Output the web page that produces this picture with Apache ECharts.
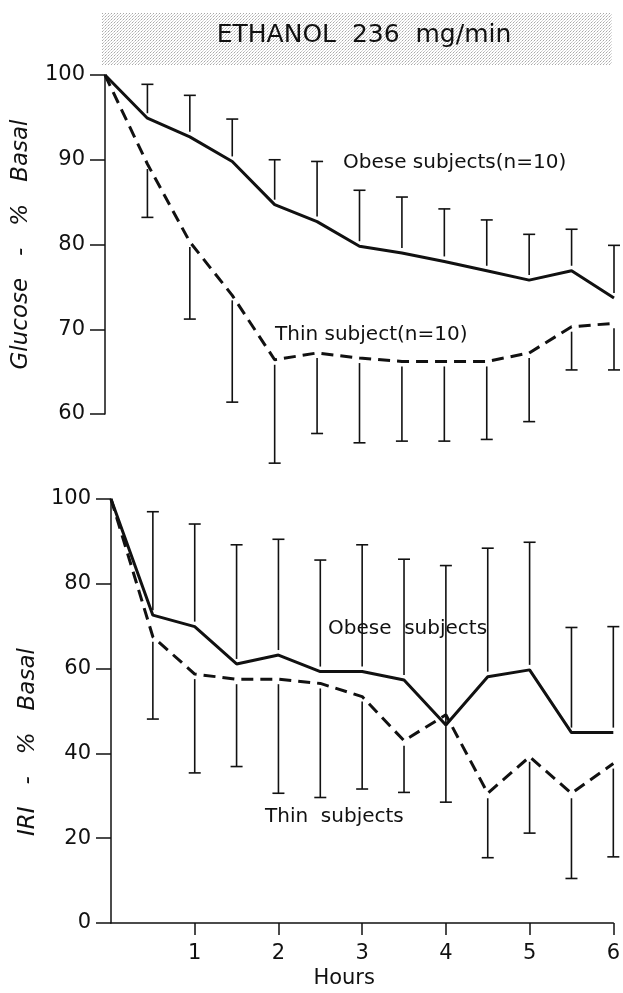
<!DOCTYPE html>
<html>
<head>
<meta charset="utf-8">
<script src="https://cdn.jsdelivr.net/npm/echarts@6/dist/echarts.min.js"></script>
<style>
  html, body { margin: 0; padding: 0; background: #fff; }
  #chart { width: 623px; height: 993px; }
</style>
</head>
<body>
<div id="chart"></div>
<script>
// time points (hours)
const hours = [0, 0.5, 1, 1.5, 2, 2.5, 3, 3.5, 4, 4.5, 5, 5.5, 6];

// glucose - % basal
const glucoseObese = [100, 94.9, 92.7, 89.8, 84.7, 82.7, 79.8, 79.0, 78.0, 76.9, 75.8, 76.9, 73.7];
const glucoseObeseUpper = [null, 98.9, 97.6, 94.8, 90.0, 89.8, 86.4, 85.6, 84.2, 82.9, 81.2, 81.8, 79.9];
const glucoseThin = [100, 89.5, 80.3, 74.0, 66.4, 67.2, 66.6, 66.2, 66.2, 66.2, 67.2, 70.3, 70.7];
const glucoseThinLower = [null, 83.2, 71.2, 61.4, 54.2, 57.7, 56.6, 56.8, 56.8, 57.0, 59.1, 65.2, 65.2];

// IRI - % basal
const iriObese = [100, 72.6, 69.9, 61.1, 63.2, 59.3, 59.3, 57.3, 46.7, 58.1, 59.7, 44.9, 44.9];
const iriObeseUpper = [null, 97.0, 94.1, 89.2, 90.5, 85.6, 89.2, 85.8, 84.3, 88.4, 89.8, 69.7, 69.9];
const iriThin = [100, 67.5, 58.7, 57.5, 57.5, 56.5, 53.4, 43.0, 49.1, 30.6, 39.2, 30.6, 37.6];
const iriThinLower = [null, 48.1, 35.4, 36.9, 30.6, 29.6, 31.6, 30.8, 28.5, 15.4, 21.2, 10.5, 15.6];

// tick labels
const glucoseTicks = [60, 70, 80, 90, 100];
const iriTicks = [0, 20, 40, 60, 80, 100];
const hourTicks = [1, 2, 3, 4, 5, 6];

const ink = '#111';
const font = '"DejaVu Sans", sans-serif';

function pairs(mean) {
  return hours.map(function (h, i) { return [h, mean[i]]; });
}
function bars(mean, end) {
  return hours.map(function (h, i) { return [h, mean[i], end[i]]; })
    .filter(function (d) { return d[2] != null; });
}

// error bar: from near the mean line out to the cap
function errorBar(params, api) {
  const p0 = api.coord([api.value(0), api.value(1)]);
  const p1 = api.coord([api.value(0), api.value(2)]);
  const dir = p1[1] > p0[1] ? 1 : -1;
  const gap = 5, half = 6;
  const st = { stroke: ink, lineWidth: 1.6 };
  return {
    type: 'group',
    children: [
      { type: 'line', shape: { x1: p0[0], y1: p0[1] + dir * gap, x2: p1[0], y2: p1[1] }, style: st },
      { type: 'line', shape: { x1: p1[0] - half, y1: p1[1], x2: p1[0] + half, y2: p1[1] }, style: st }
    ]
  };
}

// stipple for the title box
function stipple() {
  const c = document.createElement('canvas');
  c.width = 3; c.height = 3;
  const ctx = c.getContext('2d');
  ctx.fillStyle = '#fff'; ctx.fillRect(0, 0, 3, 3);
  ctx.fillStyle = '#a8a8a8'; ctx.fillRect(0, 0, 1, 1);
  ctx.fillStyle = '#c8c8c8'; ctx.fillRect(1, 2, 1, 1);
  ctx.fillStyle = '#d8d8d8'; ctx.fillRect(2, 1, 1, 1);
  return c;
}

function yAxis(gridIndex, min, max, interval, name, gap, pad) {
  return {
    type: 'value', gridIndex: gridIndex, min: min, max: max, interval: interval,
    name: name, nameLocation: 'middle', nameGap: gap,
    nameTextStyle: { fontFamily: font, fontStyle: 'italic', fontSize: 23, color: ink, padding: pad },
    axisLine: { show: true, lineStyle: { color: ink, width: 1.5 } },
    axisTick: { show: true, inside: false, length: 15, lineStyle: { color: ink, width: 1.5 } },
    axisLabel: { fontFamily: font, fontSize: 21, color: ink, margin: 20 },
    splitLine: { show: false }
  };
}

const chart = echarts.init(document.getElementById('chart'));

const option = {
  backgroundColor: '#fff',
  animation: false,
  grid: [
    { left: 105, right: 9, top: 75, height: 339 },
    { left: 111, right: 9, top: 499, height: 424 }
  ],
  xAxis: [
    { type: 'value', gridIndex: 0, min: 0, max: 6, show: false },
    {
      type: 'value', gridIndex: 1, min: 0, max: 6, interval: 1,
      name: 'Hours', nameLocation: 'middle', nameGap: 45,
      nameTextStyle: { fontFamily: font, fontSize: 21, color: ink, padding: [0, 36, 0, 0] },
      axisLine: { show: true, onZero: false, lineStyle: { color: ink, width: 1.5 } },
      axisTick: { show: true, inside: false, length: 12, customValues: hourTicks, lineStyle: { color: ink, width: 1.5 } },
      axisLabel: { fontFamily: font, fontSize: 21, color: ink, margin: 20, customValues: hourTicks },
      splitLine: { show: false }
    }
  ],
  yAxis: [
    yAxis(0, glucoseTicks[0], glucoseTicks[glucoseTicks.length - 1], 10, 'Glucose   -   %   Basal', 72, [0, 0, 0, 0]),
    yAxis(1, iriTicks[0], iriTicks[iriTicks.length - 1], 20, 'IRI   -   %   Basal', 69, [0, 62, 0, 0])
  ],
  series: [
    {
      type: 'line', xAxisIndex: 0, yAxisIndex: 0, data: pairs(glucoseObese),
      symbol: 'none', lineStyle: { color: ink, width: 3 }
    },
    {
      type: 'line', xAxisIndex: 0, yAxisIndex: 0, data: pairs(glucoseThin),
      symbol: 'none', lineStyle: { color: ink, width: 3, type: [12, 7] }
    },
    {
      type: 'custom', xAxisIndex: 0, yAxisIndex: 0, clip: false,
      data: bars(glucoseObese, glucoseObeseUpper), renderItem: errorBar
    },
    {
      type: 'custom', xAxisIndex: 0, yAxisIndex: 0, clip: false,
      data: bars(glucoseThin, glucoseThinLower), renderItem: errorBar
    },
    {
      type: 'line', xAxisIndex: 1, yAxisIndex: 1, data: pairs(iriObese),
      symbol: 'none', lineStyle: { color: ink, width: 3 }
    },
    {
      type: 'line', xAxisIndex: 1, yAxisIndex: 1, data: pairs(iriThin),
      symbol: 'none', lineStyle: { color: ink, width: 3, type: [12, 7] }
    },
    {
      type: 'custom', xAxisIndex: 1, yAxisIndex: 1, clip: false,
      data: bars(iriObese, iriObeseUpper), renderItem: errorBar
    },
    {
      type: 'custom', xAxisIndex: 1, yAxisIndex: 1, clip: false,
      data: bars(iriThin, iriThinLower), renderItem: errorBar
    }
  ],
  graphic: [
    {
      type: 'rect', left: 102, top: 13, shape: { width: 510, height: 52 },
      style: { fill: { image: stipple(), repeat: 'repeat' } }, z: 0
    },
    {
      type: 'text', x: 364, y: 35, z: 1,
      style: { text: 'ETHANOL  236  mg/min', fontFamily: font, fontSize: 25, fill: ink, align: 'center', verticalAlign: 'middle' }
    },
    {
      type: 'text', x: 343, y: 163,
      style: { text: 'Obese subjects(n=10)', fontFamily: font, fontSize: 20, fill: ink, verticalAlign: 'middle' }
    },
    {
      type: 'text', x: 275, y: 335,
      style: { text: 'Thin subject(n=10)', fontFamily: font, fontSize: 20, fill: ink, verticalAlign: 'middle' }
    },
    {
      type: 'text', x: 328, y: 629,
      style: { text: 'Obese  subjects', fontFamily: font, fontSize: 20, fill: ink, verticalAlign: 'middle' }
    },
    {
      type: 'text', x: 265, y: 817,
      style: { text: 'Thin  subjects', fontFamily: font, fontSize: 20, fill: ink, verticalAlign: 'middle' }
    }
  ]
};

chart.setOption(option);
</script>
</body>
</html>
